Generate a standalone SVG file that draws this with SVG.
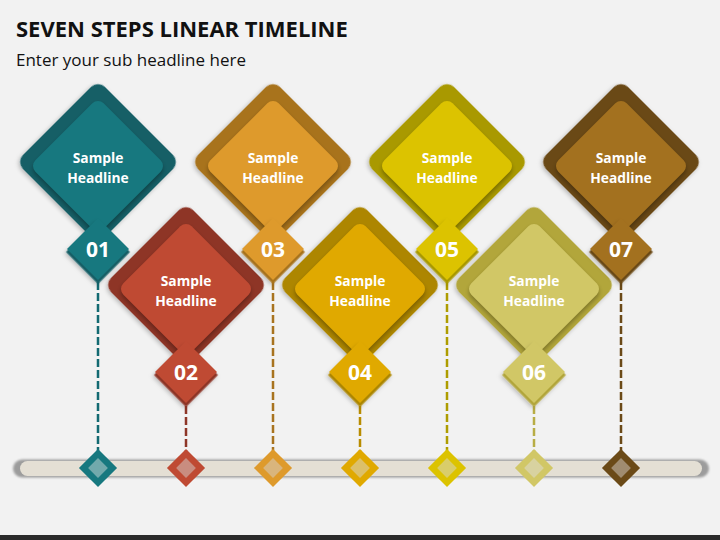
<svg xmlns="http://www.w3.org/2000/svg" width="720" height="540" viewBox="0 0 720 540">
<defs>
<filter id="ds" x="-30%" y="-30%" width="160%" height="160%">
<feDropShadow dx="0" dy="2" stdDeviation="2" flood-color="#000" flood-opacity="0.25"/>
</filter>
<filter id="blur2" x="-30%" y="-30%" width="160%" height="160%">
<feGaussianBlur stdDeviation="2"/>
</filter>
<filter id="blur1" x="-30%" y="-30%" width="160%" height="160%">
<feGaussianBlur stdDeviation="1.2"/>
</filter>
</defs>
<style>
.title{font-family:"Open Sans","Liberation Sans",sans-serif;font-weight:700;font-size:22px;fill:#111}
.sub{font-family:"Open Sans","Liberation Sans",sans-serif;font-size:17px;fill:#111}
.hd{font-family:"Open Sans","Liberation Sans",sans-serif;font-weight:700;font-size:13.8px;fill:#fff;text-anchor:middle}
.num{font-family:"Open Sans","Liberation Sans",sans-serif;font-weight:700;font-size:21px;fill:#fff;text-anchor:middle}
.dash{stroke-width:2.5;stroke-dasharray:8 3;fill:none}
</style>
<rect width="720" height="540" fill="#F2F2F2"/>
<rect x="0" y="535" width="720" height="5" fill="#2B2B2B"/>
<text class="title" x="16" y="37">SEVEN STEPS LINEAR TIMELINE</text>
<text class="sub" x="16" y="66">Enter your sub headline here</text>

<g id="connectors">
<line class="dash" x1="98" y1="282" x2="98" y2="452" stroke="#136A72"/>
<line class="dash" x1="186" y1="406" x2="186" y2="452" stroke="#8E3628"/>
<line class="dash" x1="273" y1="282" x2="273" y2="452" stroke="#A8731F"/>
<line class="dash" x1="360" y1="406" x2="360" y2="452" stroke="#B88C00"/>
<line class="dash" x1="447" y1="282" x2="447" y2="452" stroke="#AE9D00"/>
<line class="dash" x1="534" y1="406" x2="534" y2="452" stroke="#B8AD45"/>
<line class="dash" x1="621" y1="282" x2="621" y2="452" stroke="#6B4A17"/>
</g>

<g id="timeline">
<rect x="13" y="459.5" width="696" height="18" rx="9" fill="#9C9C9C" filter="url(#blur1)"/>
<rect x="20" y="461" width="682" height="15" rx="7.5" fill="#E4DFD4"/>
<g transform="translate(98,468) rotate(45)"><rect x="-13.5" y="-13.5" width="27" height="27" fill="#17787F"/><rect x="-7" y="-7" width="14" height="14" fill="#72A9AC"/></g>
<g transform="translate(186,468) rotate(45)"><rect x="-13.5" y="-13.5" width="27" height="27" fill="#BF4A33"/><rect x="-7" y="-7" width="14" height="14" fill="#C98D80"/></g>
<g transform="translate(273,468) rotate(45)"><rect x="-13.5" y="-13.5" width="27" height="27" fill="#DE9A2C"/><rect x="-7" y="-7" width="14" height="14" fill="#D9B57D"/></g>
<g transform="translate(360,468) rotate(45)"><rect x="-13.5" y="-13.5" width="27" height="27" fill="#E0A900"/><rect x="-7" y="-7" width="14" height="14" fill="#DCC06A"/></g>
<g transform="translate(447,468) rotate(45)"><rect x="-13.5" y="-13.5" width="27" height="27" fill="#DCC300"/><rect x="-7" y="-7" width="14" height="14" fill="#D9CD6A"/></g>
<g transform="translate(534,468) rotate(45)"><rect x="-13.5" y="-13.5" width="27" height="27" fill="#D1C766"/><rect x="-7" y="-7" width="14" height="14" fill="#D8D2A0"/></g>
<g transform="translate(621,468) rotate(45)"><rect x="-13.5" y="-13.5" width="27" height="27" fill="#6B4A17"/><rect x="-7" y="-7" width="14" height="14" fill="#A08C70"/></g>
</g>

<g id="step1" transform="translate(98,162)">
<rect x="-58" y="-58" width="116" height="116" rx="10" transform="rotate(45)" fill="#125F66" filter="url(#ds)"/>
<rect x="-48.3" y="-48.3" width="96.6" height="96.6" rx="8" transform="translate(0,7) rotate(45)" fill="#000" opacity="0.3" filter="url(#blur2)"/>
<rect x="-48.3" y="-48.3" width="96.6" height="96.6" rx="8" transform="translate(0,4) rotate(45)" fill="#17787F"/>
<rect x="-22.6" y="-22.6" width="45.2" height="45.2" transform="translate(0,90) rotate(45)" fill="#125F66" filter="url(#ds)"/>
<rect x="-21.9" y="-21.9" width="43.8" height="43.8" transform="translate(0,87) rotate(45)" fill="#17787F"/>
<text class="hd" x="0" y="1">Sample</text>
<text class="hd" x="0" y="21">Headline</text>
<text class="num" x="0" y="94.5">01</text>
</g>

<g id="step2" transform="translate(186,285)">
<rect x="-58" y="-58" width="116" height="116" rx="10" transform="rotate(45)" fill="#8E3628" filter="url(#ds)"/>
<rect x="-48.3" y="-48.3" width="96.6" height="96.6" rx="8" transform="translate(0,7) rotate(45)" fill="#000" opacity="0.3" filter="url(#blur2)"/>
<rect x="-48.3" y="-48.3" width="96.6" height="96.6" rx="8" transform="translate(0,4) rotate(45)" fill="#BF4A33"/>
<rect x="-22.6" y="-22.6" width="45.2" height="45.2" transform="translate(0,90) rotate(45)" fill="#8E3628" filter="url(#ds)"/>
<rect x="-21.9" y="-21.9" width="43.8" height="43.8" transform="translate(0,87) rotate(45)" fill="#BF4A33"/>
<text class="hd" x="0" y="1">Sample</text>
<text class="hd" x="0" y="21">Headline</text>
<text class="num" x="0" y="94.5">02</text>
</g>

<g id="step3" transform="translate(273,162)">
<rect x="-58" y="-58" width="116" height="116" rx="10" transform="rotate(45)" fill="#A8731F" filter="url(#ds)"/>
<rect x="-48.3" y="-48.3" width="96.6" height="96.6" rx="8" transform="translate(0,7) rotate(45)" fill="#000" opacity="0.3" filter="url(#blur2)"/>
<rect x="-48.3" y="-48.3" width="96.6" height="96.6" rx="8" transform="translate(0,4) rotate(45)" fill="#DE9A2C"/>
<rect x="-22.6" y="-22.6" width="45.2" height="45.2" transform="translate(0,90) rotate(45)" fill="#A8731F" filter="url(#ds)"/>
<rect x="-21.9" y="-21.9" width="43.8" height="43.8" transform="translate(0,87) rotate(45)" fill="#DE9A2C"/>
<text class="hd" x="0" y="1">Sample</text>
<text class="hd" x="0" y="21">Headline</text>
<text class="num" x="0" y="94.5">03</text>
</g>

<g id="step4" transform="translate(360,285)">
<rect x="-58" y="-58" width="116" height="116" rx="10" transform="rotate(45)" fill="#AD8600" filter="url(#ds)"/>
<rect x="-48.3" y="-48.3" width="96.6" height="96.6" rx="8" transform="translate(0,7) rotate(45)" fill="#000" opacity="0.3" filter="url(#blur2)"/>
<rect x="-48.3" y="-48.3" width="96.6" height="96.6" rx="8" transform="translate(0,4) rotate(45)" fill="#E0A900"/>
<rect x="-22.6" y="-22.6" width="45.2" height="45.2" transform="translate(0,90) rotate(45)" fill="#AD8600" filter="url(#ds)"/>
<rect x="-21.9" y="-21.9" width="43.8" height="43.8" transform="translate(0,87) rotate(45)" fill="#E0A900"/>
<text class="hd" x="0" y="1">Sample</text>
<text class="hd" x="0" y="21">Headline</text>
<text class="num" x="0" y="94.5">04</text>
</g>

<g id="step5" transform="translate(447,162)">
<rect x="-58" y="-58" width="116" height="116" rx="10" transform="rotate(45)" fill="#A99900" filter="url(#ds)"/>
<rect x="-48.3" y="-48.3" width="96.6" height="96.6" rx="8" transform="translate(0,7) rotate(45)" fill="#000" opacity="0.3" filter="url(#blur2)"/>
<rect x="-48.3" y="-48.3" width="96.6" height="96.6" rx="8" transform="translate(0,4) rotate(45)" fill="#DCC300"/>
<rect x="-22.6" y="-22.6" width="45.2" height="45.2" transform="translate(0,90) rotate(45)" fill="#A99900" filter="url(#ds)"/>
<rect x="-21.9" y="-21.9" width="43.8" height="43.8" transform="translate(0,87) rotate(45)" fill="#DCC300"/>
<text class="hd" x="0" y="1">Sample</text>
<text class="hd" x="0" y="21">Headline</text>
<text class="num" x="0" y="94.5">05</text>
</g>

<g id="step6" transform="translate(534,285)">
<rect x="-58" y="-58" width="116" height="116" rx="10" transform="rotate(45)" fill="#B2A63A" filter="url(#ds)"/>
<rect x="-48.3" y="-48.3" width="96.6" height="96.6" rx="8" transform="translate(0,7) rotate(45)" fill="#000" opacity="0.3" filter="url(#blur2)"/>
<rect x="-48.3" y="-48.3" width="96.6" height="96.6" rx="8" transform="translate(0,4) rotate(45)" fill="#D1C766"/>
<rect x="-22.6" y="-22.6" width="45.2" height="45.2" transform="translate(0,90) rotate(45)" fill="#B2A63A" filter="url(#ds)"/>
<rect x="-21.9" y="-21.9" width="43.8" height="43.8" transform="translate(0,87) rotate(45)" fill="#D1C766"/>
<text class="hd" x="0" y="1">Sample</text>
<text class="hd" x="0" y="21">Headline</text>
<text class="num" x="0" y="94.5">06</text>
</g>

<g id="step7" transform="translate(621,162)">
<rect x="-58" y="-58" width="116" height="116" rx="10" transform="rotate(45)" fill="#6B4A17" filter="url(#ds)"/>
<rect x="-48.3" y="-48.3" width="96.6" height="96.6" rx="8" transform="translate(0,7) rotate(45)" fill="#000" opacity="0.3" filter="url(#blur2)"/>
<rect x="-48.3" y="-48.3" width="96.6" height="96.6" rx="8" transform="translate(0,4) rotate(45)" fill="#A3711F"/>
<rect x="-22.6" y="-22.6" width="45.2" height="45.2" transform="translate(0,90) rotate(45)" fill="#6B4A17" filter="url(#ds)"/>
<rect x="-21.9" y="-21.9" width="43.8" height="43.8" transform="translate(0,87) rotate(45)" fill="#A3711F"/>
<text class="hd" x="0" y="1">Sample</text>
<text class="hd" x="0" y="21">Headline</text>
<text class="num" x="0" y="94.5">07</text>
</g>
</svg>
